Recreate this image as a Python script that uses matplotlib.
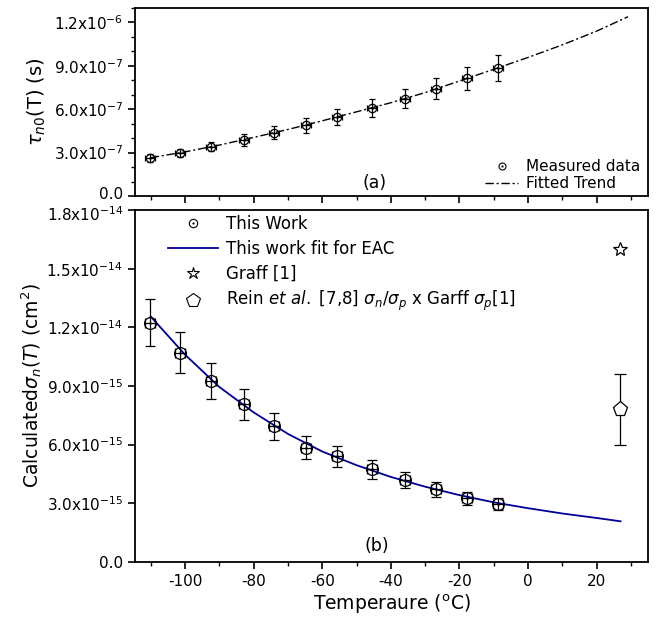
import matplotlib
matplotlib.use("Agg")
import matplotlib.pyplot as plt
from matplotlib.lines import Line2D
from matplotlib.ticker import MultipleLocator
from matplotlib.transforms import ScaledTranslation

plt.rcParams["font.family"] = "DejaVu Sans"
plt.rcParams["axes.unicode_minus"] = False
plt.rcParams["mathtext.fontset"] = "dejavusans"

# measured temperatures (degC), shared by both panels
temps = [-110.2, -101.5, -92.4, -82.8, -74.1, -64.7, -55.7, -45.5, -35.9, -26.8, -17.8, -8.7]
temp_err = [1.5] * 12

# panel (a): tau_n0 (s)
tau = [0.264e-6, 0.298e-6, 0.342e-6, 0.388e-6, 0.439e-6, 0.488e-6,
       0.546e-6, 0.608e-6, 0.673e-6, 0.742e-6, 0.814e-6, 0.886e-6]
tau_err = [0.027e-6, 0.030e-6, 0.034e-6, 0.039e-6, 0.044e-6, 0.050e-6,
           0.055e-6, 0.061e-6, 0.067e-6, 0.074e-6, 0.081e-6, 0.088e-6]
trend_t = [-110, -100, -90, -80, -70, -60, -50, -40, -30, -20, -10, 0, 10, 20, 29.2]
trend_tau = [0.265e-6, 0.305e-6, 0.352e-6, 0.405e-6, 0.460e-6, 0.520e-6, 0.582e-6,
             0.645e-6, 0.715e-6, 0.795e-6, 0.876e-6, 0.958e-6, 1.045e-6, 1.140e-6, 1.240e-6]

# panel (b): sigma_n (cm^2)
sigma = [1.224e-14, 1.070e-14, 0.925e-14, 0.807e-14, 0.695e-14, 0.584e-14,
         0.541e-14, 0.473e-14, 0.418e-14, 0.371e-14, 0.325e-14, 0.297e-14]
sigma_err = [0.122e-14, 0.105e-14, 0.093e-14, 0.080e-14, 0.069e-14, 0.058e-14,
             0.054e-14, 0.047e-14, 0.042e-14, 0.037e-14, 0.032e-14, 0.030e-14]
fit_t = [-110, -100, -90, -80, -70, -60, -50, -40, -30, -20, -10, 0, 10, 20, 27]
fit_sigma = [1.255e-14, 1.060e-14, 0.895e-14, 0.765e-14, 0.655e-14, 0.565e-14, 0.495e-14,
             0.435e-14, 0.385e-14, 0.342e-14, 0.305e-14, 0.275e-14, 0.248e-14, 0.225e-14, 0.208e-14]
graff_t, graff_sigma = [26.8], [1.60e-14]
rein_t, rein_sigma, rein_err = [26.8], [0.78e-14], [0.18e-14]

top_ticks = [0.0, 3e-7, 6e-7, 9e-7, 1.2e-6]
top_labels = ["0.0", r"3.0x10$^{-7}$", r"6.0x10$^{-7}$", r"9.0x10$^{-7}$", r"1.2x10$^{-6}$"]
bot_ticks = [0.0, 3e-15, 6e-15, 9e-15, 1.2e-14, 1.5e-14, 1.8e-14]
bot_labels = ["0.0", r"3.0x10$^{-15}$", r"6.0x10$^{-15}$", r"9.0x10$^{-15}$",
              r"1.2x10$^{-14}$", r"1.5x10$^{-14}$", r"1.8x10$^{-14}$"]
x_ticks = [-100, -80, -60, -40, -20, 0, 20]

BLUE = "#000099"

fig = plt.figure(figsize=(6.6, 6.22), dpi=100)
ax1 = fig.add_axes([0.2045, 0.6849, 0.7773, 0.3022])
ax2 = fig.add_axes([0.2045, 0.0965, 0.7773, 0.5659])

for ax in (ax1, ax2):
    ax.set_xlim(-114.6, 35)
    ax.xaxis.set_major_locator(MultipleLocator(20))
    ax.xaxis.set_minor_locator(MultipleLocator(10))
    ax.tick_params(which="major", direction="out", length=5, width=1.2, labelsize=11)
    ax.tick_params(which="minor", direction="out", length=3, width=1.0)
    for s in ax.spines.values():
        s.set_linewidth(1.3)

# ---- panel (a)
ax1.plot(trend_t, trend_tau, color="black", lw=1.0, ls=(0, (6, 2, 1.5, 2)))
ax1.errorbar(temps, tau, yerr=tau_err, xerr=temp_err, fmt="o", ms=6, mfc="none",
             mec="black", mew=0.9, ecolor="black", elinewidth=0.9, capsize=2.5)
ax1.plot(temps, tau, ".", color="black", ms=1.5)
ax1.set_ylim(0, 1.3e-6)
ax1.set_yticks(top_ticks, top_labels)
ax1.yaxis.set_minor_locator(MultipleLocator(1e-7))
ax1.set_xticks(x_ticks, [])
ax1.set_ylabel(r"$\tau_{n0}$(T) (s)", fontsize=14, labelpad=4)
ax1.text(-44.6, 0.09e-6, "(a)", fontsize=12.5, ha="center", va="center")

h_meas = (Line2D([], [], ls="none", marker="o", ms=5, mfc="none", mec="black", mew=0.8),
          Line2D([], [], ls="none", marker=".", ms=1.2, color="black"))
h_trend = Line2D([], [], color="black", lw=1.0, ls=(0, (6, 2, 1.5, 2)))
ax1.legend([h_meas, h_trend], ["Measured data", "Fitted Trend"], loc="lower right",
           bbox_to_anchor=(0.985, 0.025), frameon=False, fontsize=11, handlelength=2.2,
           handletextpad=0.5, labelspacing=0.15, borderaxespad=0, borderpad=0)

# ---- panel (b)
ax2.plot(fit_t, fit_sigma, color=BLUE, lw=1.3)
ax2.errorbar(temps, sigma, yerr=sigma_err, xerr=temp_err, fmt="o", ms=8.5, mfc="none",
             mec="black", mew=0.9, ecolor="black", elinewidth=0.9, capsize=3.5)
ax2.plot(temps, sigma, ".", color="black", ms=1.5)
ax2.plot(graff_t, graff_sigma, "*", ms=10, mfc="none", mec="black", mew=0.9)
ax2.errorbar(rein_t, rein_sigma, yerr=rein_err, fmt="p", ms=11, mfc="white",
             mec="black", mew=0.9, ecolor="black", elinewidth=0.9, capsize=4)
ax2.set_ylim(0, 1.8e-14)
ax2.set_yticks(bot_ticks, bot_labels)
ax2.set_xticks(x_ticks, [str(t) for t in x_ticks])
ax2.set_xlabel(r"Temperaure ($^{\rm o}$C)", fontsize=13.5, labelpad=3)
ax2.set_ylabel(r"Calculated$\sigma_n(T)$ (cm$^2$)", fontsize=13.5, labelpad=2)
ax2.text(-44, 0.08e-14, "(b)", fontsize=12.5, ha="center", va="center")

# keep the two labels at the panel seam apart
lbl = ax1.get_yticklabels()[0]
lbl.set_transform(lbl.get_transform() + ScaledTranslation(0, 2 / 72, fig.dpi_scale_trans))
lbl = ax2.get_yticklabels()[-1]
lbl.set_transform(lbl.get_transform() + ScaledTranslation(0, -2 / 72, fig.dpi_scale_trans))

h_this = (Line2D([], [], ls="none", marker="o", ms=6, mfc="none", mec="black", mew=0.8),
          Line2D([], [], ls="none", marker=".", ms=1.2, color="black"))
h_fit = Line2D([], [], color=BLUE, lw=1.3)
h_graff = Line2D([], [], ls="none", marker="*", ms=9, mfc="none", mec="black", mew=0.8)
h_rein = Line2D([], [], ls="none", marker="p", ms=10, mfc="none", mec="black", mew=0.8)
ax2.legend([h_this, h_fit, h_graff, h_rein],
           ["This Work", "This work fit for EAC", "Graff [1]",
            r"Rein $\it{et\ al.}$ [7,8] $\sigma_n/\sigma_p$ x Garff $\sigma_p$[1]"],
           loc="upper left", bbox_to_anchor=(0.064, 0.985), frameon=False, fontsize=12,
           handlelength=3.0, handletextpad=0.5, labelspacing=0.4, borderaxespad=0, borderpad=0)

fig.savefig("out.png", dpi=100)
